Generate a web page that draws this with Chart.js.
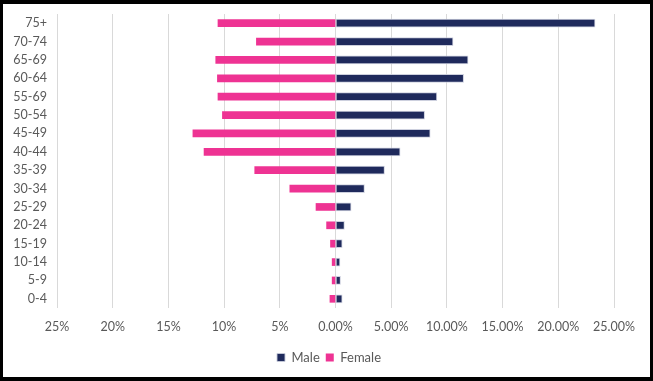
<!DOCTYPE html>
<html>
<head>
<meta charset="utf-8">
<script src="https://cdn.jsdelivr.net/npm/chart.js@4"></script>
<style>
  html, body { margin: 0; padding: 0; background: #fff; }
  #wrap { width: 653px; height: 381px; box-sizing: border-box; border-style: solid; border-color: #000; border-width: 4px 3px 4px 3px; position: relative; background: #fff; }
  #c { display: block; }
</style>
</head>
<body>
<div id="wrap"><canvas id="c" width="647" height="373"></canvas></div>
<script>
const categories = ['75+','70-74','65-69','60-64','55-69','50-54','45-49','40-44','35-39','30-34','25-29','20-24','15-19','10-14','5-9','0-4'];
const maleValues = [23.3, 10.55, 11.9, 11.5, 9.1, 8.0, 8.5, 5.8, 4.4, 2.6, 1.4, 0.8, 0.6, 0.4, 0.45, 0.6];
const femaleValues = [10.55, 7.1, 10.75, 10.6, 10.55, 10.15, 12.8, 11.8, 7.25, 4.1, 1.75, 0.8, 0.45, 0.3, 0.3, 0.5];
const xTickValues = [-25, -20, -15, -10, -5, 0, 5, 10, 15, 20, 25];

const textColor = '#595959';
const fontFamily = 'Lato, "Open Sans", sans-serif';

new Chart(document.getElementById('c'), {
  type: 'bar',
  data: {
    labels: categories,
    datasets: [
      {
        label: 'Male',
        data: maleValues,
        backgroundColor: '#1F2A5C',
        borderColor: 'rgba(200,203,218,0.9)',
        borderWidth: 1,
        borderSkipped: false,
        barThickness: 8,
        stack: 's'
      },
      {
        label: 'Female',
        data: femaleValues.map(v => -v),
        backgroundColor: '#EE3393',
        borderWidth: 0,
        barThickness: 7,
        stack: 's'
      }
    ]
  },
  options: {
    indexAxis: 'y',
    responsive: false,
    animation: false,
    devicePixelRatio: 1,
    layout: { padding: { left: 5, right: 0, top: 10, bottom: 3 } },
    plugins: {
      tooltip: { enabled: false },
      legend: {
        position: 'bottom',
        labels: {
          boxWidth: 8,
          boxHeight: 8,
          padding: 6,
          color: textColor,
          font: { family: fontFamily, size: 13 }
        }
      }
    },
    scales: {
      x: {
        stacked: true,
        min: -25,
        max: 25,
        afterBuildTicks: (scale) => { scale.ticks = xTickValues.map(v => ({ value: v })); },
        afterFit: (scale) => { scale.paddingRight = 36; scale.paddingLeft = 0; },
        ticks: {
          padding: 11,
          color: textColor,
          font: { family: fontFamily, size: 12.5 },
          maxRotation: 0,
          callback: (v) => v < 0 ? Math.abs(v) + '%' : (v === 0 ? '0.00%' : v.toFixed(2) + '%')
        },
        grid: { color: '#D9D9D9', lineWidth: 1, drawTicks: false },
        border: { display: false }
      },
      y: {
        stacked: true,
        afterFit: (scale) => { scale.width = 49; scale.paddingTop = 0; scale.paddingBottom = 0; },
        ticks: {
          padding: 10,
          autoSkip: false,
          color: textColor,
          font: { family: fontFamily, size: 12.5 }
        },
        grid: { display: false, drawTicks: false },
        border: { display: false }
      }
    }
  }
});
</script>
</body>
</html>
